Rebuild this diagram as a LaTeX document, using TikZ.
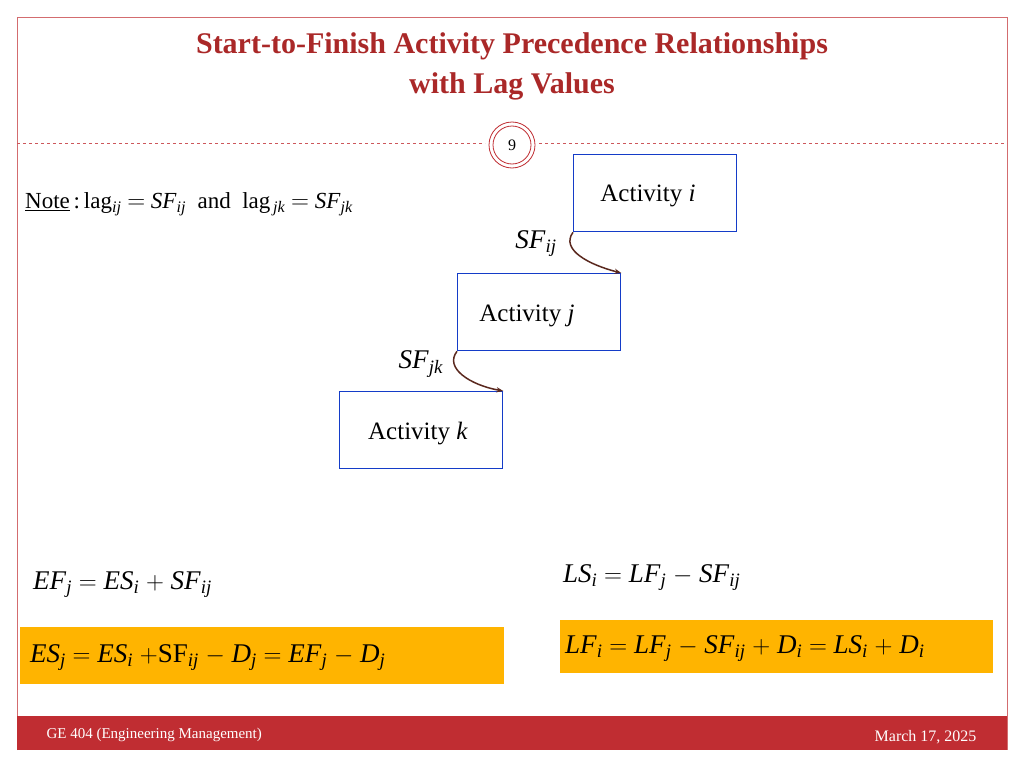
\documentclass[tikz,border=0pt]{standalone}
\usepackage{fontspec}
\usetikzlibrary{arrows.meta}
\setmainfont{Liberation Serif}
\definecolor{tred}{RGB}{170,40,40}
\definecolor{fred}{RGB}{192,45,50}
\definecolor{bblue}{RGB}{20,60,200}
\definecolor{yel}{RGB}{255,180,0}
\definecolor{brn}{RGB}{90,40,30}
\newcommand\vv[2]{\textit{#1}\textsubscript{\textit{#2}}}
\begin{document}
\begin{tikzpicture}[x=1pt,y=-1pt,
  act/.style={draw=bblue,line width=1.3pt,fill=white,minimum width=163pt,minimum height=77pt,inner sep=0pt,font=\fontsize{24}{28}\selectfont},
  eq/.style={font=\fontsize{27}{30}\selectfont,inner sep=0pt},
  lag/.style={-{Stealth[length=7pt]},draw=brn,line width=1.5pt}]
\useasboundingbox (0,0) rectangle (1024,768);
\fill[white] (0,0) rectangle (1024,768);
\draw[fred!70,line width=0.8pt] (17,750) -- (17,17) -- (1007,17) -- (1007,750);
\node[text=tred,font=\fontsize{30}{40}\selectfont\bfseries,align=center] (title) at (512,66) {Start-to-Finish Activity Precedence Relationships\\with Lag Values};
\draw[fred!80,dashed,line width=0.6pt] (17,143) -- (485,143) (539,143) -- (1007,143);
\node[circle,draw=fred,line width=0.8pt,minimum size=46pt,inner sep=0pt] (c) at (512,145) {};
\node[circle,draw=fred,line width=0.8pt,minimum size=38pt,inner sep=0pt,font=\fontsize{16}{18}\selectfont] (num) at (512,145) {9};
\node[anchor=west,font=\fontsize{23}{26}\selectfont,inner sep=0pt] (note) at (25,204) {\underline{Note}\,:\,lag\textsubscript{\textit{ij}} $=$ \vv{SF}{ij}\ \ and\ \ lag\textsubscript{\textit{\,jk}} $=$ \vv{SF}{jk}};
\node[act,anchor=north west] (ai) at (573,154) {};
\node[font=\fontsize{25}{28}\selectfont] at (648,196) {Activity \textit{i}};
\node[act,anchor=north west] (aj) at (457,273) {};
\node[font=\fontsize{25}{28}\selectfont] at (527,316) {Activity \textit{j}};
\node[act,anchor=north west] (ak) at (339,391) {};
\node[font=\fontsize{25}{28}\selectfont] at (418,434) {Activity \textit{k}};
\draw[lag] (ai.south west) .. controls (560,250) and (590,265) .. (aj.north east);
\draw[lag] (aj.south west) .. controls (444,368) and (470,385) .. (ak.north east);
\node[eq] (sfij) at (536,244) {\vv{SF}{ij}};
\node[eq] (sfjk) at (421,364) {\vv{SF}{jk}};
\node[eq,anchor=west] (e1) at (33,585) {\vv{EF}{j} $=$ \vv{ES}{i} $+$ \vv{SF}{ij}};
\node[eq,anchor=west] (e2) at (563,578) {\vv{LS}{i} $=$ \vv{LF}{j} $-$ \vv{SF}{ij}};
\fill[yel] (20,627) rectangle (504,684);
\fill[yel] (560,620) rectangle (993,673);
\node[eq,anchor=west] (e3) at (30,658) {\vv{ES}{j} $=$ \vv{ES}{i} $+$SF\textsubscript{\textit{ij}} $-$ \vv{D}{j} $=$ \vv{EF}{j} $-$ \vv{D}{j}};
\node[eq,anchor=west] (e4) at (565,649) {\vv{LF}{i} $=$ \vv{LF}{j} $-$ \vv{SF}{ij} $+$ \vv{D}{i} $=$ \vv{LS}{i} $+$ \vv{D}{i}};
\fill[fred] (17,716) rectangle (1007,750);
\node[anchor=west,text=white,font=\fontsize{15}{18}\selectfont] (f1) at (43,735) {GE 404 (Engineering Management)};
\node[anchor=east,text=white,font=\fontsize{16}{20}\selectfont] (f2) at (980,737) {March 17, 2025};
\end{tikzpicture}
\end{document}
